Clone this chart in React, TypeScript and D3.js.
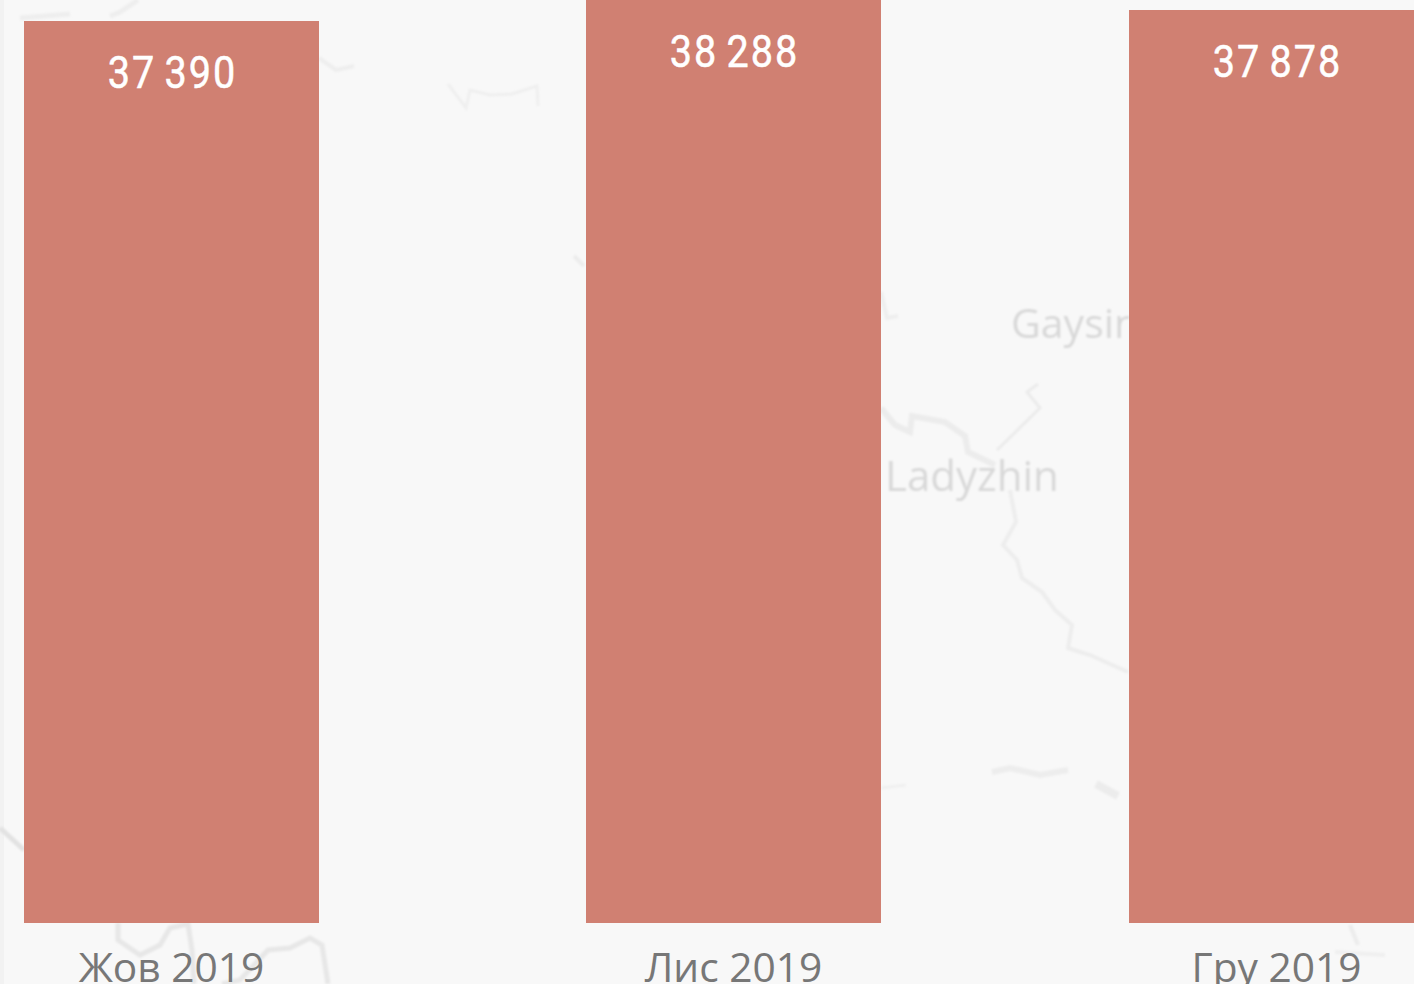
import React from "react";
import * as d3 from "d3";

const months = ["Жов 2019", "Лис 2019", "Гру 2019"];
const totals = [37390, 38288, 37878];

type P = [number, number];
const roads: { pts: P[]; w: number; c: string }[] = [
  { pts: [[319,58],[336,70],[354,66]], w: 4, c: "#eeeeee" },
  { pts: [[448,84],[466,108],[470,90],[490,95],[512,94],[537,86],[538,106]], w: 3, c: "#efefef" },
  { pts: [[574,256],[584,266]], w: 4, c: "#ececec" },
  { pts: [[881,292],[887,318],[898,316]], w: 4, c: "#eeeeee" },
  { pts: [[881,408],[895,425],[910,432],[912,416],[945,422],[965,436],[968,452],[995,465]], w: 6, c: "#ececec" },
  { pts: [[997,450],[1040,408],[1027,392],[1038,384]], w: 3, c: "#ebebeb" },
  { pts: [[1010,490],[1016,522],[1003,545],[1017,560],[1022,578],[1042,592],[1055,610],[1072,625],[1068,648],[1090,655],[1128,672]], w: 4, c: "#ededed" },
  { pts: [[992,772],[1010,768],[1040,775],[1068,770]], w: 6, c: "#ededed" },
  { pts: [[1096,784],[1118,796]], w: 8, c: "#ececec" },
  { pts: [[881,788],[906,785]], w: 3, c: "#f0f0f0" },
  { pts: [[0,828],[24,850]], w: 5, c: "#e2e2e2" },
  { pts: [[20,18],[70,14]], w: 5, c: "#eeeeee" },
  { pts: [[110,16],[120,12],[138,0]], w: 5, c: "#eeeeee" },
  { pts: [[118,923],[118,940],[140,955],[160,945],[170,928],[188,924],[192,950],[194,984]], w: 5, c: "#e7e7e7" },
  { pts: [[222,984],[240,980],[268,950],[290,948],[310,938],[322,945],[328,984]], w: 5, c: "#e7e7e7" },
  { pts: [[1350,925],[1358,945]], w: 4, c: "#ececec" },
  { pts: [[1335,952],[1385,955]], w: 4, c: "#efefef" },
];

const placeNames = ["Gaysin", "Ladyzhin"];

const W = 1414;
const H = 984;

export default function App() {
  const y = d3.scaleLinear().domain([0, 38288]).rangeRound([923, -0.3]);
  const center = d3.scaleOrdinal<string, number>().domain(months).range([171.5, 733.5, 1276.5]);
  const barW = 295;
  const line = d3.line<P>().curve(d3.curveLinear);
  const fmt = (v: number) => d3.format(",")(v).replace(",", " ");

  return (
    <svg
      width={W}
      height={H}
      viewBox={`0 0 ${W} ${H}`}
      style={{ position: "fixed", left: 0, top: 0, display: "block" }}
    >
      <defs>
        <filter id="soft" x="-5%" y="-5%" width="110%" height="110%">
          <feGaussianBlur stdDeviation="1" />
        </filter>
        <clipPath id="gaysinClip">
          <rect x={1000} y={290} width={129} height={70} />
        </clipPath>
      </defs>
      <rect width={W} height={H} fill="#f8f8f8" />
      <rect width={4} height={H} fill="#f2f2f2" />
      <g filter="url(#soft)">
        {roads.map((r, i) => (
          <path key={i} d={line(r.pts) ?? ""} fill="none" stroke={r.c} strokeWidth={r.w} />
        ))}
        <text
          x={1011}
          y={338}
          fontFamily="'Open Sans', sans-serif"
          fontSize={41}
          fill="#d8d8d8"
          clipPath="url(#gaysinClip)"
        >
          {placeNames[0]}
        </text>
        <text
          x={885}
          y={491}
          fontFamily="'Open Sans', sans-serif"
          fontSize={42}
          fill="#d8d8d8"
        >
          {placeNames[1]}
        </text>
      </g>
      {months.map((m, i) => {
        const cx = center(m);
        return (
          <g key={m}>
            <rect x={cx - barW / 2} y={y(totals[i])} width={barW} height={y(0) - y(totals[i])} fill="#d08072" />
            <text
              transform={`translate(${cx + 1},${y(totals[i]) + 67}) scale(0.9,1)`}
              textAnchor="middle"
              fontFamily="Roboto, sans-serif"
              fontSize={44}
              letterSpacing={2.2}
              wordSpacing={-4}
              fill="#ffffff"
              stroke="#ffffff"
              strokeWidth={0.5}
            >
              {fmt(totals[i])}
            </text>
            <text
              x={cx}
              y={982}
              textAnchor="middle"
              fontFamily="'Open Sans', sans-serif"
              fontSize={40.7}
              fill="#777777"
            >
              {m}
            </text>
          </g>
        );
      })}
    </svg>
  );
}
